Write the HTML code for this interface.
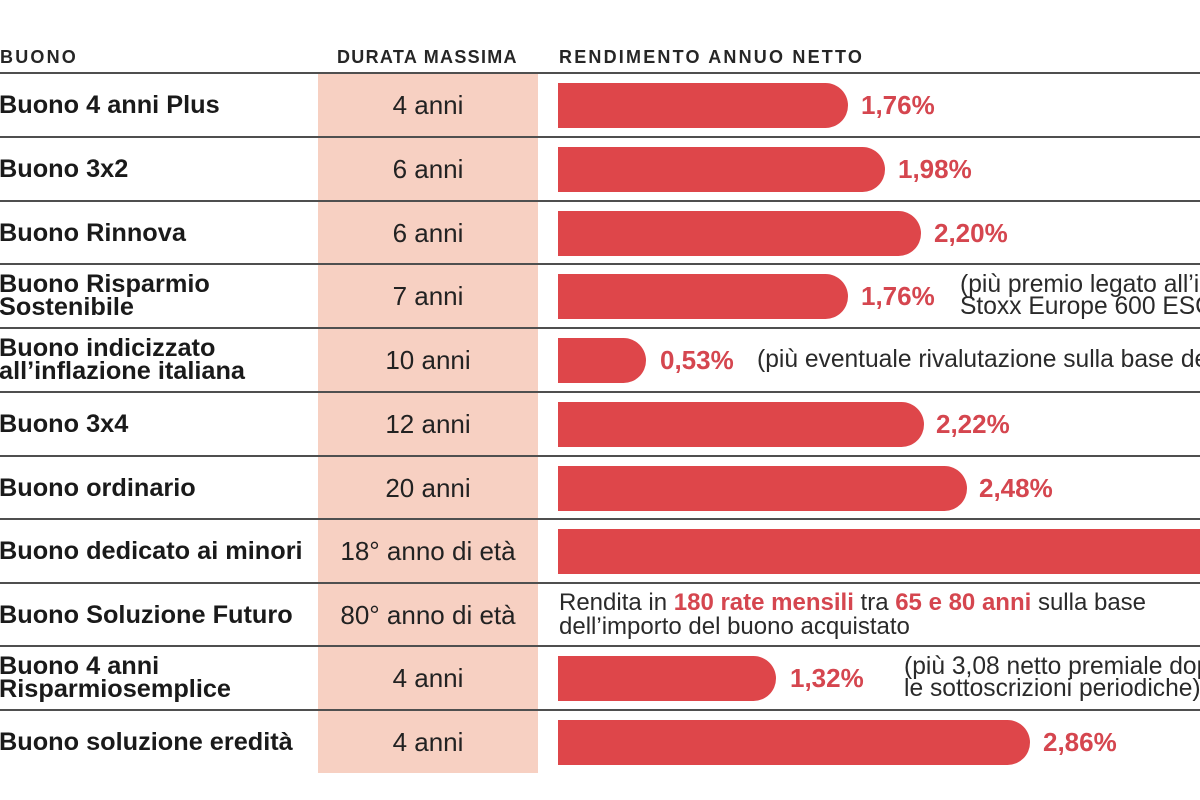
<!DOCTYPE html>
<html><head><meta charset="utf-8"><style>
*{margin:0;padding:0;box-sizing:border-box}
html,body{width:1200px;height:800px;overflow:hidden}
body{background:#fff;position:relative;font-family:"Liberation Sans",sans-serif;color:#1d1d1d}
.frame{position:absolute;left:0;top:0;width:1200px;height:800px;overflow:hidden}
.abs{position:absolute}
.shade{left:318px;top:73px;width:220px;height:700px;background:#f7d0c2}
.hl{position:absolute;left:0;width:1200px;height:2px;background:#4f4f4f}
.hd{position:absolute;top:46px;font-size:18px;font-weight:bold;line-height:22px;color:#262626;white-space:nowrap}
.row{position:absolute;left:0;width:1200px;height:64px;overflow:hidden}
.lab{position:absolute;left:-1px;top:0;height:64px;display:flex;align-items:center;font-size:25.3px;font-weight:bold;line-height:23px;white-space:nowrap;color:#1a1a1a}
.dur{position:absolute;left:318px;width:220px;top:0;height:64px;display:flex;align-items:center;justify-content:center;font-size:26px;white-space:nowrap;color:#222}
.bar{position:absolute;left:558px;top:10px;height:45px;background:#de464a;border-radius:0 22.5px 22.5px 0}
.pct{position:absolute;top:0;height:64px;display:flex;align-items:center;font-size:26px;font-weight:bold;color:#d5464f;white-space:nowrap}
.note{position:absolute;top:0;height:64px;display:flex;align-items:center;font-size:24.6px;line-height:22px;white-space:nowrap;color:#2a2a2a;overflow:hidden}
.red{color:#d5464f;font-weight:bold}
</style></head>
<body>
<div class="frame">
<div class="abs shade"></div>

<div class="hd" style="left:0;letter-spacing:2.2px">BUONO</div>
<div class="hd" style="left:337px;letter-spacing:1.3px">DURATA MASSIMA</div>
<div class="hd" style="left:559px;letter-spacing:2.2px">RENDIMENTO ANNUO NETTO</div>

<div class="hl" style="top:72px"></div>
<div class="hl" style="top:136px"></div>
<div class="hl" style="top:200px"></div>
<div class="hl" style="top:263px"></div>
<div class="hl" style="top:327px"></div>
<div class="hl" style="top:391px"></div>
<div class="hl" style="top:455px"></div>
<div class="hl" style="top:518px"></div>
<div class="hl" style="top:582px"></div>
<div class="hl" style="top:645px"></div>
<div class="hl" style="top:709px"></div>

<!-- Row 1 -->
<div class="row" style="top:73px">
  <div class="lab">Buono 4 anni Plus</div>
  <div class="dur">4 anni</div>
  <div class="bar" style="width:290px"></div>
  <div class="pct" style="left:861px">1,76%</div>
</div>
<!-- Row 2 -->
<div class="row" style="top:137px">
  <div class="lab">Buono 3x2</div>
  <div class="dur">6 anni</div>
  <div class="bar" style="width:327px"></div>
  <div class="pct" style="left:898px">1,98%</div>
</div>
<!-- Row 3 -->
<div class="row" style="top:201px">
  <div class="lab">Buono Rinnova</div>
  <div class="dur">6 anni</div>
  <div class="bar" style="width:363px"></div>
  <div class="pct" style="left:934px">2,20%</div>
</div>
<!-- Row 4 -->
<div class="row" style="top:264px">
  <div class="lab">Buono Risparmio<br>Sostenibile</div>
  <div class="dur">7 anni</div>
  <div class="bar" style="width:290px"></div>
  <div class="pct" style="left:861px">1,76%</div>
  <div class="note" style="left:960px;width:240px">(più premio legato all’indice<br>Stoxx Europe 600 ESG)</div>
</div>
<!-- Row 5 -->
<div class="row" style="top:328px">
  <div class="lab">Buono indicizzato<br>all’inflazione italiana</div>
  <div class="dur">10 anni</div>
  <div class="bar" style="width:88px"></div>
  <div class="pct" style="left:660px">0,53%</div>
  <div class="note" style="left:757px;width:443px">(più eventuale rivalutazione sulla base dell’inflazione)</div>
</div>
<!-- Row 6 -->
<div class="row" style="top:392px">
  <div class="lab">Buono 3x4</div>
  <div class="dur">12 anni</div>
  <div class="bar" style="width:366px"></div>
  <div class="pct" style="left:936px">2,22%</div>
</div>
<!-- Row 7 -->
<div class="row" style="top:456px">
  <div class="lab">Buono ordinario</div>
  <div class="dur">20 anni</div>
  <div class="bar" style="width:409px"></div>
  <div class="pct" style="left:979px">2,48%</div>
</div>
<!-- Row 8 -->
<div class="row" style="top:519px">
  <div class="lab">Buono dedicato ai minori</div>
  <div class="dur">18° anno di età</div>
  <div class="bar" style="width:642px;border-radius:0"></div>
</div>
<!-- Row 9 -->
<div class="row" style="top:583px">
  <div class="lab">Buono Soluzione Futuro</div>
  <div class="dur">80° anno di età</div>
  <div class="note" style="left:559px;width:641px;line-height:24px;font-size:24px">
    <div>Rendita in <span class="red">180 rate mensili</span> tra <span class="red">65 e 80 anni</span> sulla base<br>dell’importo del buono acquistato</div>
  </div>
</div>
<!-- Row 10 -->
<div class="row" style="top:646px">
  <div class="lab">Buono 4 anni<br>Risparmiosemplice</div>
  <div class="dur">4 anni</div>
  <div class="bar" style="width:218px"></div>
  <div class="pct" style="left:790px">1,32%</div>
  <div class="note" style="left:904px;width:296px">(più 3,08 netto premiale dopo<br>le sottoscrizioni periodiche)</div>
</div>
<!-- Row 11 -->
<div class="row" style="top:710px">
  <div class="lab">Buono soluzione eredità</div>
  <div class="dur">4 anni</div>
  <div class="bar" style="width:472px"></div>
  <div class="pct" style="left:1043px">2,86%</div>
</div>
</div>
</body></html>
